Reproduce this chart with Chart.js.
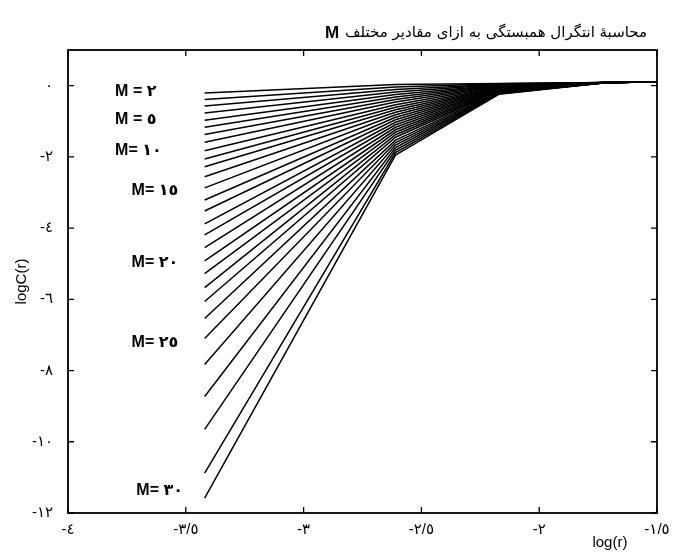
<!DOCTYPE html>
<html><head><meta charset="utf-8">
<script src="https://cdn.jsdelivr.net/npm/chart.js@4.4.1/dist/chart.umd.min.js"></script>
<style>html,body{margin:0;padding:0;background:#fff;}#c{display:block;}</style>
</head><body>
<canvas id="c" width="695" height="553"></canvas>
<script>
// Embedding dimensions (one curve each)
const embeddingDims = [2,3,4,5,6,7,8,9,10,11,12,13,14,15,16,17,18,19,20,21,22,23,24,25,26,27,28,29,30];
// log(r) sample positions
const logR = [-3.42, -2.61, -2.17, -1.72, -1.5];
// logC(r) at each log(r) sample, one entry per embedding dimension
const logC_r1 = [-0.21,-0.39,-0.57,-0.77,-0.97,-1.17,-1.37,-1.59,-1.83,-2.06,-2.28,-2.56,-2.87,-3.21,-3.52,-3.88,-4.19,-4.55,-4.92,-5.28,-5.67,-6.06,-6.54,-7.10,-7.83,-8.73,-9.65,-10.88,-11.58];
const logC_r2 = [0.03,-0.04,-0.11,-0.18,-0.25,-0.32,-0.39,-0.46,-0.54,-0.61,-0.68,-0.75,-0.82,-0.89,-0.96,-1.03,-1.10,-1.17,-1.24,-1.31,-1.38,-1.45,-1.53,-1.60,-1.67,-1.74,-1.81,-1.88,-1.95];
const logC_r3 = [0.06,0.05,0.04,0.03,0.02,0.01,0.00,-0.01,-0.02,-0.04,-0.05,-0.06,-0.07,-0.08,-0.09,-0.10,-0.11,-0.12,-0.13,-0.14,-0.15,-0.16,-0.18,-0.19,-0.20,-0.21,-0.22,-0.23,-0.24];
const logC_r4 = [0.09,0.09,0.09,0.09,0.09,0.09,0.09,0.09,0.09,0.09,0.09,0.09,0.09,0.09,0.09,0.08,0.08,0.08,0.08,0.08,0.08,0.08,0.08,0.08,0.08,0.08,0.08,0.08,0.08];
const logC_r5 = [0.11,0.11,0.11,0.11,0.11,0.11,0.11,0.11,0.11,0.11,0.11,0.11,0.11,0.11,0.11,0.11,0.11,0.11,0.11,0.11,0.11,0.11,0.11,0.11,0.11,0.11,0.11,0.11,0.11];

const xTickValues = [-4,-3.5,-3,-2.5,-2,-1.5];
const xTickLabels = ['-٤','-٣/٥','-٣','-٢/٥','-٢','-١/٥'];
const yTickValues = [0,-2,-4,-6,-8,-10,-12];
const yTickLabels = ['٠','-٢','-٤','-٦','-٨','-١٠','-١٢'];

const curveLabels = ['M = ٢','M = ٥','M= ١٠','M= ١٥','M= ٢٠','M= ٢٥','M= ٣٠'];
const curveLabelX = [-3.80,-3.80,-3.80,-3.73,-3.73,-3.73,-3.71];
const curveLabelY = [-0.17,-0.96,-1.83,-2.95,-4.97,-7.22,-11.38];

const titleText = 'محاسبهٔ انتگرال همبستگی به ازای مقادیر مختلف';
const titleLatin = 'M';
const xTitle = 'log(r)';
const yTitle = 'logC(r)';

const columns = [logC_r1, logC_r2, logC_r3, logC_r4, logC_r5];
const datasets = embeddingDims.map((m, i) => ({
  label: 'M=' + m,
  data: logR.map((x, j) => ({x: x, y: columns[j][i]})),
  borderColor: '#000',
  borderWidth: 1.5,
  pointRadius: 0,
  fill: false,
  tension: 0
}));

const FONT = '"Liberation Sans", "DejaVu Sans", sans-serif';

const boxPlugin = {
  id: 'boxPlugin',
  afterDraw(chart) {
    const ctx = chart.ctx;
    const a = chart.chartArea;
    const xs = chart.scales.x, ys = chart.scales.y;
    ctx.save();
    ctx.strokeStyle = '#000';
    ctx.lineWidth = 1.8;
    ctx.strokeRect(a.left, a.top, a.right - a.left, a.bottom - a.top);
    ctx.lineWidth = 1.3;
    ctx.beginPath();
    xTickValues.forEach(v => {
      const px = xs.getPixelForValue(v);
      ctx.moveTo(px, a.bottom); ctx.lineTo(px, a.bottom - 6);
      ctx.moveTo(px, a.top); ctx.lineTo(px, a.top + 6);
    });
    yTickValues.forEach(v => {
      const py = ys.getPixelForValue(v);
      ctx.moveTo(a.left, py); ctx.lineTo(a.left + 6, py);
      ctx.moveTo(a.right, py); ctx.lineTo(a.right - 6, py);
    });
    ctx.stroke();

    // curve labels
    ctx.fillStyle = '#000';
    ctx.font = 'bold 16px ' + FONT;
    ctx.textAlign = 'left';
    ctx.textBaseline = 'middle';
    curveLabels.forEach((t, i) => {
      ctx.fillText(t, xs.getPixelForValue(curveLabelX[i]), ys.getPixelForValue(curveLabelY[i]));
    });

    // title
    ctx.textBaseline = 'alphabetic';
    ctx.font = '15px "DejaVu Sans", sans-serif';
    ctx.direction = 'rtl';
    ctx.textAlign = 'right';
    const tr = a.right - 10;
    ctx.fillText(titleText, tr, 37);
    const w = ctx.measureText(titleText).width;
    ctx.direction = 'ltr';
    ctx.font = 'bold 17px ' + FONT;
    ctx.fillText(titleLatin, tr - w - 6, 38);

    // axis titles
    ctx.font = '15px ' + FONT;
    ctx.textAlign = 'center';
    ctx.textBaseline = 'middle';
    ctx.fillText(xTitle, xs.getPixelForValue(-1.7), 543);
    ctx.translate(22, (a.top + a.bottom) / 2);
    ctx.rotate(-Math.PI / 2);
    ctx.fillText(yTitle, 0, 0);
    ctx.restore();
  }
};

new Chart(document.getElementById('c'), {
  type: 'line',
  data: { datasets },
  options: {
    responsive: false,
    animation: false,
    devicePixelRatio: 1,
    layout: { padding: { top: 50, right: 38, left: 0, bottom: 0 } },
    plugins: { legend: { display: false }, tooltip: { enabled: false }, title: { display: false } },
    elements: { line: { tension: 0 } },
    scales: {
      x: {
        type: 'linear', min: -4, max: -1.5,
        grid: { display: false, drawTicks: false },
        border: { display: false },
        afterBuildTicks: s => { s.ticks = xTickValues.map(v => ({ value: v })); },
        afterFit: s => { s.height = 40; },
        ticks: {
          padding: 8, color: '#000', font: { size: 15, family: FONT },
          maxRotation: 0, autoSkip: false,
          callback: v => { const k = xTickValues.indexOf(v); return k >= 0 ? xTickLabels[k] : ''; }
        }
      },
      y: {
        type: 'linear', min: -12, max: 1,
        grid: { display: false, drawTicks: false },
        border: { display: false },
        afterBuildTicks: s => { s.ticks = yTickValues.map(v => ({ value: v })); },
        afterFit: s => { s.width = 68; },
        ticks: {
          padding: 15, color: '#000', font: { size: 15, family: FONT }, autoSkip: false,
          callback: v => { const k = yTickValues.indexOf(v); return k >= 0 ? yTickLabels[k] : ''; }
        }
      }
    }
  },
  plugins: [boxPlugin]
});
</script>
</body></html>
